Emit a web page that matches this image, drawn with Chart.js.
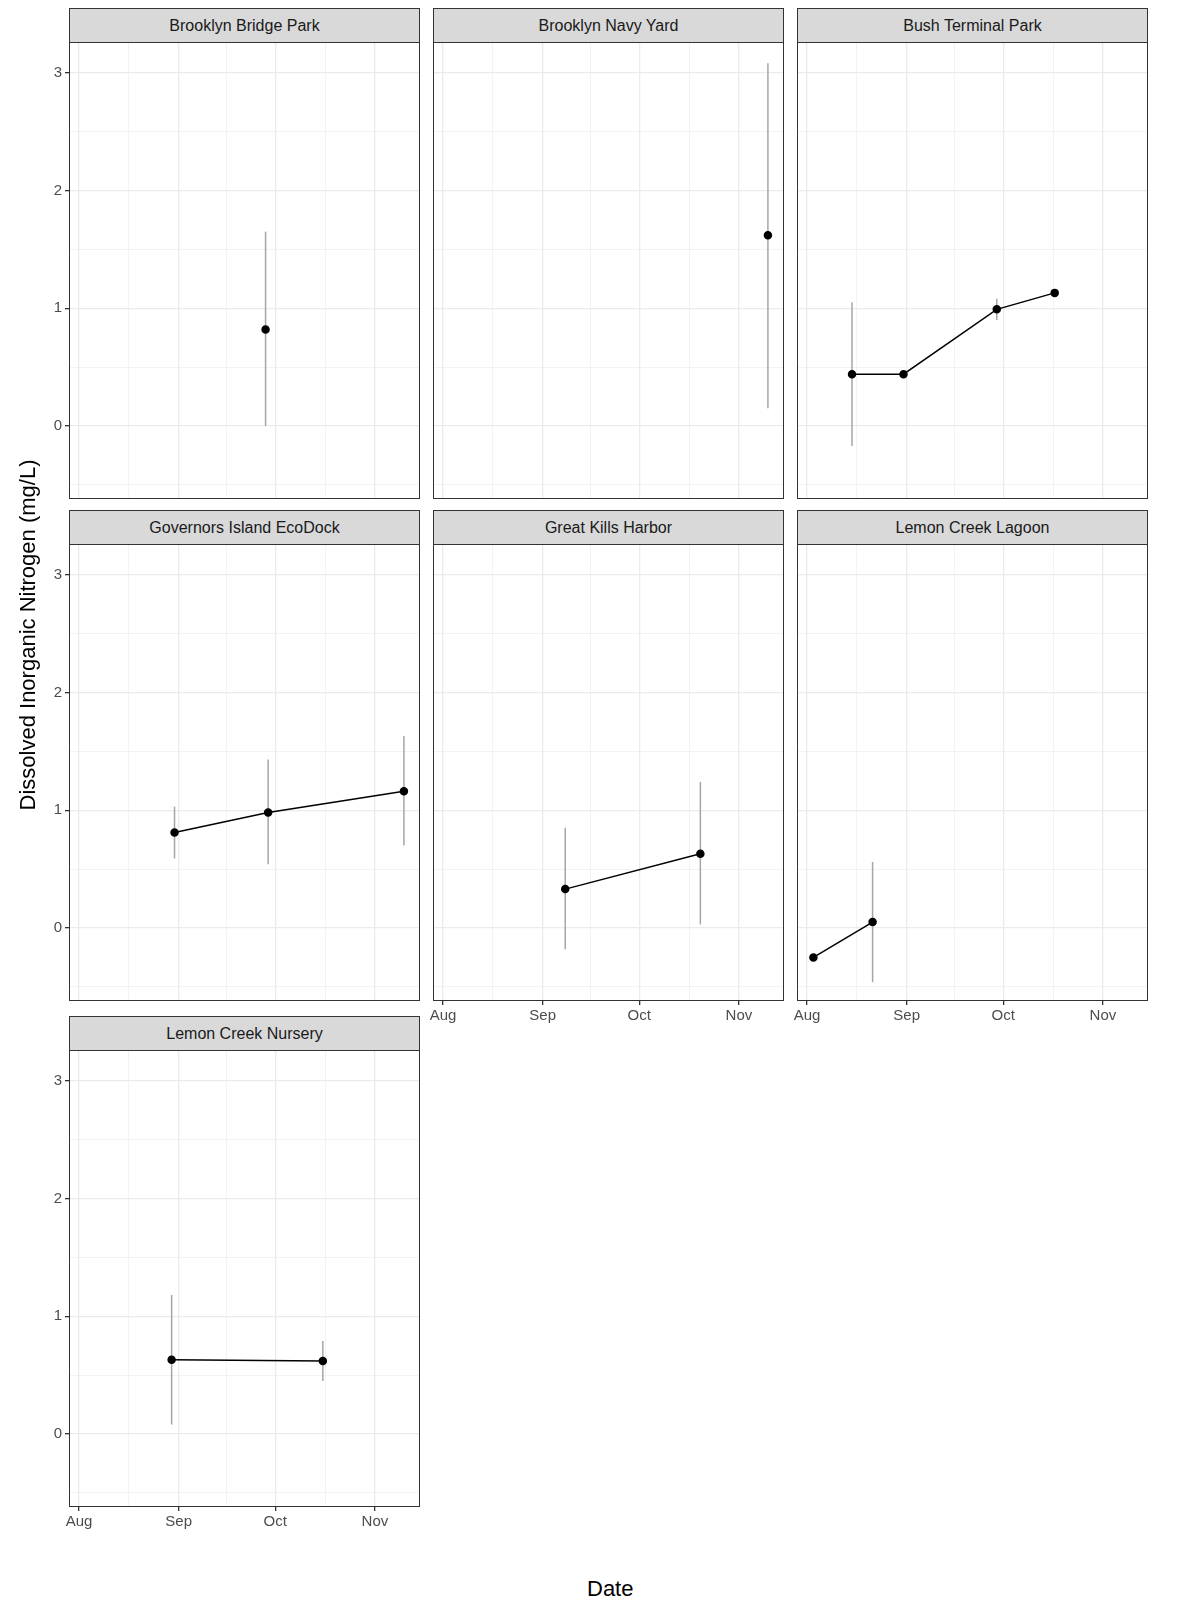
<!DOCTYPE html>
<html><head><meta charset="utf-8">
<script src="https://cdn.jsdelivr.net/npm/chart.js@4"></script>
<style>
body{margin:0;background:#fff;font-family:"Liberation Sans",Arial,sans-serif;}
.strip{position:absolute;background:#d9d9d9;border:1px solid #333;box-sizing:border-box;text-align:center;font-size:16px;color:#1a1a1a;line-height:34px;}
.frame{position:absolute;border:1px solid #333;box-sizing:border-box;pointer-events:none;}
.cv{position:absolute;}
.title{position:absolute;font-size:22px;color:#000;}
</style></head><body>
<script>
// days since Aug 1
const X_TICKS = [0, 15.5, 31, 46, 61, 76.5, 92];
const X_LABELS = { 0: "Aug", 31: "Sep", 61: "Oct", 92: "Nov" };
const Y_TICKS = [-0.5, 0, 0.5, 1, 1.5, 2, 2.5, 3];

const BBP_DAY = [58], BBP_VAL = [0.82], BBP_LO = [0.0], BBP_HI = [1.65];
const BNY_DAY = [101], BNY_VAL = [1.62], BNY_LO = [0.15], BNY_HI = [3.08];
const BTP_DAY = [14, 30, 59, 77], BTP_VAL = [0.44, 0.44, 0.99, 1.13], BTP_LO = [-0.17, 0.42, 0.9, 1.11], BTP_HI = [1.05, 0.46, 1.08, 1.15];
const GIE_DAY = [29.7, 58.8, 101], GIE_VAL = [0.81, 0.98, 1.16], GIE_LO = [0.59, 0.54, 0.7], GIE_HI = [1.03, 1.43, 1.63];
const GKH_DAY = [38, 80], GKH_VAL = [0.33, 0.63], GKH_LO = [-0.18, 0.03], GKH_HI = [0.85, 1.24];
const LCL_DAY = [2, 20.4], LCL_VAL = [-0.25, 0.05], LCL_LO = [null, -0.46], LCL_HI = [null, 0.56];
const LCN_DAY = [28.8, 75.8], LCN_VAL = [0.63, 0.62], LCN_LO = [0.08, 0.45], LCN_HI = [1.18, 0.79];

const SITES = [
  ["Brooklyn Bridge Park", BBP_DAY, BBP_VAL, BBP_LO, BBP_HI],
  ["Brooklyn Navy Yard", BNY_DAY, BNY_VAL, BNY_LO, BNY_HI],
  ["Bush Terminal Park", BTP_DAY, BTP_VAL, BTP_LO, BTP_HI],
  ["Governors Island EcoDock", GIE_DAY, GIE_VAL, GIE_LO, GIE_HI],
  ["Great Kills Harbor", GKH_DAY, GKH_VAL, GKH_LO, GKH_HI],
  ["Lemon Creek Lagoon", LCL_DAY, LCL_VAL, LCL_LO, LCL_HI],
  ["Lemon Creek Nursery", LCN_DAY, LCN_VAL, LCN_LO, LCN_HI],
];

const COL_LEFT = [69, 433, 797];
const ROW_TOP = [8, 510, 1016];
const PW = 351, PH = 457, SH = 35, AX = 34, BX = 30;

const errBars = {
  id: "errBars",
  beforeDatasetsDraw(chart) {
    const { ctx, scales: { x, y } } = chart;
    const pts = chart.data.datasets[0].data;
    ctx.save();
    ctx.strokeStyle = "#a6a6a6";
    ctx.lineWidth = 1.5;
    pts.forEach((p) => {
      if (p.lo == null) return;
      const px = x.getPixelForValue(p.x);
      ctx.beginPath();
      ctx.moveTo(px, y.getPixelForValue(p.lo));
      ctx.lineTo(px, y.getPixelForValue(p.hi));
      ctx.stroke();
    });
    ctx.restore();
  },
};

function el(cls, l, t, w, h, txt) {
  const d = document.createElement("div");
  d.className = cls;
  Object.assign(d.style, { left: l + "px", top: t + "px", width: w + "px", height: h + "px" });
  if (txt) d.textContent = txt;
  document.body.appendChild(d);
  return d;
}

SITES.forEach(([name, days, vals, lo, hi], i) => {
  const c = i % 3, r = Math.floor(i / 3);
  const left = COL_LEFT[c], top = ROW_TOP[r];
  const showX = (c === 0 && r === 2) || (c > 0 && r === 1);
  const showY = c === 0;
  const cw = PW + AX + 20, ch = PH + BX;
  el("strip", left, top, PW, SH, name);
  const wrap = el("cv", left - AX, top + SH - 1, cw, ch);
  const cv = document.createElement("canvas");
  cv.width = cw; cv.height = ch;
  cv.style.width = cw + "px"; cv.style.height = ch + "px";
  wrap.appendChild(cv);
  new Chart(cv, {
    type: "line",
    data: {
      datasets: [{
        data: days.map((d, k) => ({ x: d, y: vals[k], lo: lo[k], hi: hi[k] })),
        borderColor: "#000", borderWidth: 1.5,
        pointBackgroundColor: "#000", pointBorderColor: "#000", pointRadius: 3.5,
        tension: 0, clip: false,
      }],
    },
    options: {
      responsive: false, maintainAspectRatio: false, animation: false,
      devicePixelRatio: 1,
      layout: { autoPadding: false, padding: { right: 20, top: 0, bottom: 0, left: 0 } },
      plugins: { legend: { display: false }, tooltip: { enabled: false } },
      scales: {
        x: {
          type: "linear", min: -3.1, max: 106,
          afterBuildTicks: (s) => { s.ticks = X_TICKS.map((v) => ({ value: v })); },
          afterFit: (s) => { s.height = BX; s.paddingLeft = 0; s.paddingRight = 0; },
          ticks: {
            display: showX, autoSkip: false, maxRotation: 0, padding: 2,
            color: "#4d4d4d", font: { size: 15, family: "Liberation Sans" },
            callback: (v) => X_LABELS[v] || "",
          },
          grid: {
            color: "#ebebeb",
            lineWidth: (ctx) => (X_LABELS[ctx.tick.value] ? 1.3 : 0.6),
            tickColor: (ctx) => (showX && X_LABELS[ctx.tick.value] ? "#333" : "rgba(0,0,0,0)"),
            tickLength: 4,
          },
          border: { display: false },
        },
        y: {
          type: "linear", min: -0.62, max: 3.26,
          afterBuildTicks: (s) => { s.ticks = Y_TICKS.map((v) => ({ value: v })); },
          afterFit: (s) => { s.width = AX; s.paddingTop = 0; s.paddingBottom = 0; },
          ticks: {
            display: showY, autoSkip: false, padding: 3,
            color: "#4d4d4d", font: { size: 15, family: "Liberation Sans" },
            callback: (v) => (Number.isInteger(v) ? String(v) : ""),
          },
          grid: {
            color: "#ebebeb",
            lineWidth: (ctx) => (Number.isInteger(ctx.tick.value) ? 1.3 : 0.6),
            tickColor: (ctx) => (showY && Number.isInteger(ctx.tick.value) ? "#333" : "rgba(0,0,0,0)"),
            tickLength: 4,
          },
          border: { display: false },
        },
      },
    },
    plugins: [errBars],
  });
  el("frame", left, top + SH - 1, PW, PH);
});

const yt = el("title", -190, 620, 440, 30, "Dissolved Inorganic Nitrogen (mg/L)");
yt.style.transform = "rotate(-90deg)";
yt.style.textAlign = "center";
el("title", 587, 1576, 60, 30, "Date");
</script>
</body></html>
